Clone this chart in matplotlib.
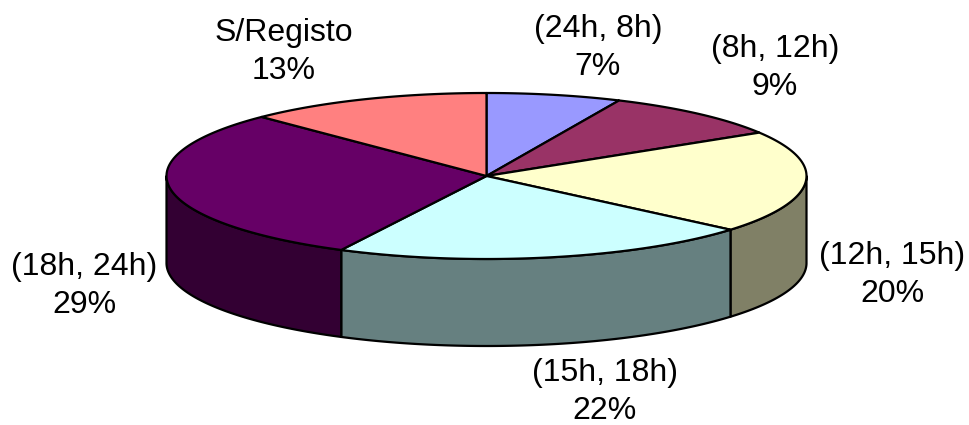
import numpy as np
import matplotlib
matplotlib.use("Agg")
import matplotlib.pyplot as plt
from matplotlib.patches import Polygon

labels = ['(24h, 8h)', '(8h, 12h)', '(12h, 15h)', '(15h, 18h)', '(18h, 24h)', 'S/Registo']
percents = [7, 9, 20, 22, 29, 13]
# slice sizes as they are drawn, the tilted pie does not quite follow the rounded labels
shares = [6.8, 9.45, 19.95, 21.3, 30.1, 12.4]
top_colors = ['#9999FF', '#993366', '#FFFFCC', '#CCFFFF', '#660066', '#FF8080']
side_colors = ['#4C4C80', '#4C1933', '#808066', '#668080', '#330033', '#804040']
label_pos = [(598, 48), (775, 68), (892, 275), (605, 392), (84, 286), (284, 52)]

cx, cy = 486.5, 176
rx, ry = 320, 83
depth = 87

plt.rcParams['font.family'] = ['Liberation Sans', 'DejaVu Sans']
fig = plt.figure(figsize=(9.69, 4.25), dpi=100)
ax = fig.add_axes([0, 0, 1, 1])
ax.set_xlim(0, 969)
ax.set_ylim(425, 0)
ax.axis('off')

def rim(a0, a1):
    # angles run clockwise from the top of the pie
    t = np.radians(np.linspace(a0, a1, 200))
    return cx + rx * np.sin(t), cy - ry * np.cos(t)

edges = np.cumsum([0] + shares) * 3.6

# side walls, only the front half of the rim shows
for i in range(len(shares)):
    a0 = max(edges[i], 90)
    a1 = min(edges[i + 1], 270)
    if a1 <= a0:
        continue
    x, y = rim(a0, a1)
    pts = np.column_stack([np.r_[x, x[::-1]], np.r_[y, y[::-1] + depth]])
    ax.add_patch(Polygon(pts, closed=True, fc=side_colors[i], ec='black', lw=1.6, joinstyle='round'))

# top slices
for i in range(len(shares)):
    x, y = rim(edges[i], edges[i + 1])
    pts = np.column_stack([np.r_[cx, x], np.r_[cy, y]])
    ax.add_patch(Polygon(pts, closed=True, fc=top_colors[i], ec='black', lw=1.6, joinstyle='round'))

for i in range(len(labels)):
    ax.text(label_pos[i][0], label_pos[i][1], labels[i] + '\n' + str(percents[i]) + '%',
            ha='center', va='center', fontsize=23, color='black', linespacing=1.38)

plt.savefig('out.png', dpi=100)
